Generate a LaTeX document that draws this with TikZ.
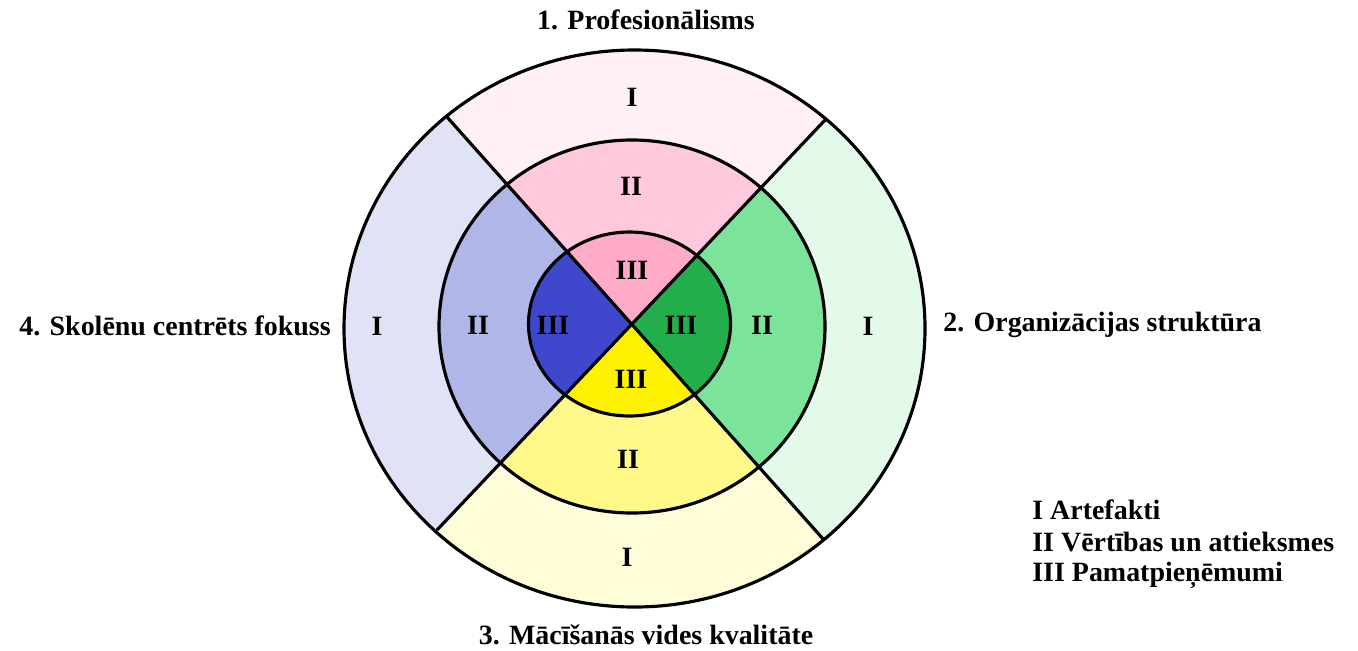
\documentclass[tikz,border=0pt]{standalone}
\usepackage{fontspec}
\setmainfont{Liberation Serif}
\usetikzlibrary{calc}
\definecolor{pinkA}{HTML}{FFF0F5}
\definecolor{pinkB}{HTML}{FFC8DC}
\definecolor{pinkC}{HTML}{FFAAC8}
\definecolor{greenA}{HTML}{E3F9EA}
\definecolor{greenB}{HTML}{7CE39A}
\definecolor{greenC}{HTML}{22AE4B}
\definecolor{yelA}{HTML}{FFFCD8}
\definecolor{yelB}{HTML}{FFF98A}
\definecolor{yelC}{HTML}{FFF200}
\definecolor{bluA}{HTML}{E0E2F6}
\definecolor{bluB}{HTML}{B0B6E8}
\definecolor{bluC}{HTML}{3F48CC}
\newcommand{\myquadrant}[5]{%
  \begin{scope}
    \clip (C) -- ($(C)!3!(#1)$) -- ($(C)!3!(#2)$) -- cycle;
    \fill[#3] (O) ellipse [x radius=290.5, y radius=278.5];
    \fill[#4] (M) ellipse [x radius=193, y radius=186.5];
    \fill[#5] (N) ellipse [x radius=101, y radius=92];
  \end{scope}}
\begin{document}
\begin{tikzpicture}[x=0.02cm,y=-0.02cm,
  lbl/.style={font=\fontsize{15.9}{18}\selectfont\bfseries, inner sep=0pt},
  ring/.style={line width=1.8pt},
]
\useasboundingbox (0,0) rectangle (1358,650);
\coordinate (C) at (630,324);
\coordinate (TL) at (447,117);
\coordinate (TR) at (826,119);
\coordinate (BL) at (437,530);
\coordinate (BR) at (824,540);
\coordinate (O) at (634.5,328.5);
\coordinate (M) at (632,326.5);
\coordinate (N) at (629.5,324);
\myquadrant{TL}{TR}{pinkA}{pinkB}{pinkC}
\myquadrant{TR}{BR}{greenA}{greenB}{greenC}
\myquadrant{BR}{BL}{yelA}{yelB}{yelC}
\myquadrant{BL}{TL}{bluA}{bluB}{bluC}
\draw[ring] (O) ellipse [x radius=290.5, y radius=278.5];
\draw[ring] (M) ellipse [x radius=193, y radius=186.5];
\draw[ring] (N) ellipse [x radius=101, y radius=92];
\draw[ring] (TL) -- (BR);
\draw[ring] (TR) -- (BL);
% ring labels
\node[lbl] (t1) at (632,97) {I};
\node[lbl] (t2) at (631,186) {II};
\node[lbl] (t3) at (632,270) {III};
\node[lbl] (r3) at (681,325) {III};
\node[lbl] (r2) at (762,325) {II};
\node[lbl] (r1) at (868,326) {I};
\node[lbl] (b3) at (631,379) {III};
\node[lbl] (b2) at (628,459) {II};
\node[lbl] (b1) at (627,557) {I};
\node[lbl] (l3) at (553,325) {III};
\node[lbl] (l2) at (478,325) {II};
\node[lbl] (l1) at (377,326) {I};
% titles
\node[lbl] (title1) at (646,20) {1. Profesionālisms};
\node[lbl, anchor=west] (title2) at (943,325) {2. Organizācijas struktūra};
\node[lbl] (title3) at (646,635) {3. Mācīšanās vides kvalitāte};
\node[lbl, anchor=east] (title4) at (331,326) {4. Skolēnu centrēts fokuss};
% legend
\node[lbl, anchor=west] (leg1) at (1032,510) {I Artefakti};
\node[lbl, anchor=west] (leg2) at (1032,542) {II Vērtības un attieksmes};
\node[lbl, anchor=west] (leg3) at (1032,575) {III Pamatpieņēmumi};
\end{tikzpicture}
\end{document}
